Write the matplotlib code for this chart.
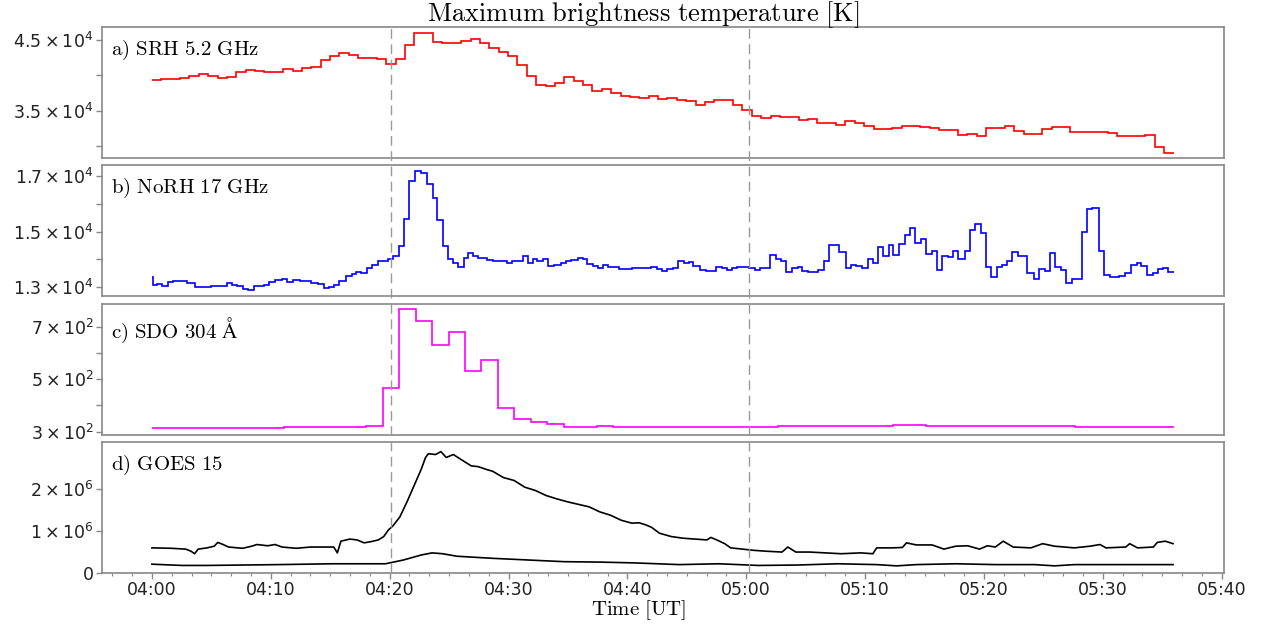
import numpy as np
import matplotlib.pyplot as plt
from matplotlib.ticker import AutoMinorLocator

# x axis runs in plotted minutes after 04:00 (tick labels as printed on the chart)
tick_pos = [0, 10, 20, 30, 40, 50, 60, 70, 80, 90]
tick_labels = ['04:00', '04:10', '04:20', '04:30', '04:40',
               '05:00', '05:10', '05:20', '05:30', '05:40']
event_x = [20.1, 50.2]
t_end = 85.95

# a) SRH 5.2 GHz, x 1e4 K, equal time bins
srh = [3.933, 3.948, 3.948, 3.967, 3.996, 4.016, 3.986, 3.957, 3.972, 4.054,
       4.079, 4.069, 4.054, 4.054, 4.093, 4.059, 4.103, 4.118, 4.22, 4.278,
       4.322, 4.288, 4.249, 4.244, 4.23, 4.157, 4.239, 4.424, 4.598, 4.594,
       4.472, 4.458, 4.458, 4.492, 4.516, 4.458, 4.385, 4.336, 4.273, 4.142,
       3.996, 3.86, 3.85, 3.899, 3.972, 3.923, 3.865, 3.782, 3.811, 3.753,
       3.714, 3.695, 3.685, 3.705, 3.666,
       3.683, 3.654, 3.639, 3.586, 3.630, 3.649, 3.649, 3.581, 3.513, 3.426,
       3.397, 3.421, 3.416, 3.416, 3.363, 3.387, 3.329, 3.329, 3.300, 3.353,
       3.319, 3.285, 3.242, 3.242, 3.261, 3.276, 3.290, 3.271, 3.256, 3.232,
       3.232, 3.160, 3.169, 3.140, 3.256, 3.256, 3.281, 3.213, 3.174, 3.174,
       3.247, 3.271, 3.271, 3.203, 3.203, 3.198, 3.198, 3.179, 3.135, 3.145,
       3.145, 3.155, 2.990, 2.903]

# b) NoRH 17 GHz, x 1e4 K, step start times and levels
norh_t = [0.00, 0.05, 0.43, 0.88, 1.33, 1.78, 2.54, 2.99, 3.59, 4.64,
          5.00, 6.29, 6.74, 7.19, 7.64, 8.09, 8.60, 9.44, 9.89, 10.35,
          10.95, 11.40, 11.85, 12.45, 13.35, 13.95, 14.49, 14.91, 15.30, 15.75,
          16.35, 16.80, 17.19, 17.61, 18.09, 18.51, 18.99, 19.36, 19.90, 20.32,
          20.80, 21.22, 21.61, 22.12, 22.66, 23.11, 23.62, 24.01, 24.46, 24.91,
          25.36, 25.75, 26.26, 26.62, 27.01, 27.40, 28.21, 28.66, 29.03, 29.87,
          30.32, 31.22, 31.61, 32.03, 32.42, 32.93, 33.32, 33.84, 34.38, 34.83,
          35.28, 35.82, 36.24, 36.63, 37.08, 37.53, 37.98, 38.34, 39.33, 40.38,
          42.01, 42.49, 42.91, 43.36, 43.88, 44.26, 44.75, 45.16, 45.55, 46.13,
          46.58, 47.48, 47.97, 48.39, 48.84, 49.26, 50.22, 50.71, 51.19, 51.96,
          52.48, 52.96, 53.35, 53.87, 54.32, 54.73, 55.22, 56.02, 56.51, 56.99,
          57.80, 58.38, 58.83, 59.25, 59.73, 60.21, 60.63, 61.08, 61.53, 61.99,
          62.37, 62.89, 63.34, 63.79, 64.24, 64.72, 65.14, 65.60, 66.01, 66.50,
          66.98, 67.40, 67.85, 68.37, 68.82, 69.24, 69.72, 70.20, 70.62, 71.07,
          71.49, 71.91, 72.36, 72.88, 73.65, 74.17, 74.62, 75.10, 75.58, 76.00,
          76.49, 76.87, 77.39, 77.84, 78.26, 78.68, 79.13, 79.64, 80.10, 80.61,
          81.32, 81.90, 82.35, 82.87, 83.25, 83.74, 84.22, 84.61, 85.03, 85.51]
norh = [1.336, 1.308, 1.310, 1.305, 1.318, 1.323, 1.320, 1.315, 1.300, 1.298,
        1.302, 1.315, 1.308, 1.303, 1.292, 1.287, 1.304, 1.308, 1.318, 1.325,
        1.330, 1.318, 1.324, 1.321, 1.315, 1.310, 1.296, 1.299, 1.308, 1.320,
        1.339, 1.346, 1.355, 1.351, 1.367, 1.379, 1.392, 1.395, 1.402, 1.410,
        1.447, 1.546, 1.681, 1.718, 1.712, 1.672, 1.620, 1.543, 1.447, 1.402,
        1.385, 1.373, 1.406, 1.422, 1.410, 1.406, 1.398, 1.395, 1.392, 1.385,
        1.392, 1.413, 1.385, 1.400, 1.392, 1.400, 1.376, 1.379, 1.385, 1.394,
        1.398, 1.404, 1.402, 1.382, 1.377, 1.369, 1.379, 1.372, 1.365, 1.367,
        1.372, 1.363, 1.357, 1.365, 1.369, 1.394, 1.388, 1.389, 1.376, 1.361,
        1.358, 1.373, 1.367, 1.361, 1.369, 1.373, 1.367, 1.361, 1.367, 1.416,
        1.400, 1.395, 1.355, 1.367, 1.371, 1.358, 1.355, 1.361, 1.394, 1.450,
        1.426, 1.367, 1.378, 1.377, 1.369, 1.400, 1.385, 1.443, 1.413, 1.453,
        1.414, 1.456, 1.488, 1.514, 1.459, 1.472, 1.420, 1.431, 1.361, 1.413,
        1.408, 1.431, 1.402, 1.429, 1.505, 1.527, 1.493, 1.372, 1.334, 1.373,
        1.379, 1.392, 1.426, 1.413, 1.349, 1.330, 1.363, 1.357, 1.421, 1.373,
        1.361, 1.313, 1.328, 1.330, 1.499, 1.581, 1.586, 1.431, 1.342, 1.334,
        1.339, 1.349, 1.379, 1.388, 1.377, 1.342, 1.349, 1.365, 1.369, 1.352]

# c) SDO 304 A, x 1e2, equal time bins
sdo = [3.15, 3.15, 3.15, 3.14, 3.14, 3.14, 3.15, 3.15, 3.16, 3.16,
       3.17, 3.18, 3.19, 3.23, 4.67, 7.68, 7.23, 6.31, 6.81, 5.33,
       5.72, 3.92, 3.49, 3.36, 3.29, 3.19, 3.19, 3.20, 3.19, 3.18,
       3.18, 3.17, 3.17, 3.18, 3.18, 3.19, 3.19, 3.19, 3.20, 3.20,
       3.21, 3.22, 3.22, 3.23, 3.23, 3.24, 3.24, 3.23, 3.23, 3.22,
       3.22, 3.21, 3.21, 3.20, 3.20, 3.20, 3.19, 3.19, 3.19, 3.18,
       3.18, 3.18]

# d) GOES 15, x 1e6
goes_hi_t = [0, 1.63, 2.84, 3.29, 3.59, 3.89, 4.64, 5.24, 5.54, 5.99,
             6.44, 7.64, 8.39, 8.84, 9.74, 10.35, 10.95, 12.14, 13.35, 14.55,
             15.30, 15.60, 15.90, 16.65, 17.25, 17.85, 18.45, 19.05, 19.50, 19.90,
             20.26, 20.86, 21.46, 22.06, 22.66, 23.02, 23.26, 23.86, 24.31, 24.76,
             25.36, 25.96, 26.86, 27.46, 28.07, 28.67, 29.57, 30.47, 31.37, 32.27,
             33.17, 34.07, 34.97, 35.87, 36.78, 37.68, 38.58, 39.48, 40.38, 40.98,
             41.54, 42.04, 42.70, 43.70, 44.70, 45.69, 46.69, 47.02, 47.52, 48.19,
             48.69, 49.68, 50.68, 51.68, 53.01, 53.50, 54.17, 55.33, 56.66, 57.99,
             59.65, 60.65, 60.98, 62.31, 63.14, 63.48, 64.31, 65.64, 66.63, 67.63,
             68.63, 69.63, 70.29, 70.96, 71.62, 72.45, 73.95, 74.94, 75.94, 77.60,
             78.93, 79.76, 80.26, 81.93, 82.26, 82.92, 84.25, 84.58, 85.25, 85.91]
goes_hi = [0.59, 0.58, 0.56, 0.51, 0.45, 0.56, 0.59, 0.63, 0.72, 0.67,
           0.61, 0.58, 0.63, 0.67, 0.64, 0.67, 0.61, 0.58, 0.61, 0.61,
           0.61, 0.47, 0.75, 0.80, 0.78, 0.71, 0.74, 0.78, 0.86, 1.02,
           1.11, 1.33, 1.69, 2.08, 2.47, 2.75, 2.84, 2.82, 2.89, 2.75,
           2.82, 2.71, 2.55, 2.53, 2.47, 2.42, 2.27, 2.20, 2.04, 1.96,
           1.84, 1.76, 1.69, 1.63, 1.57, 1.45, 1.37, 1.25, 1.18, 1.19,
           1.14, 1.08, 0.94, 0.86, 0.82, 0.80, 0.78, 0.84, 0.78, 0.69,
           0.59, 0.56, 0.53, 0.51, 0.49, 0.61, 0.49, 0.49, 0.47, 0.45,
           0.47, 0.45, 0.59, 0.59, 0.60, 0.71, 0.66, 0.66, 0.56, 0.63,
           0.64, 0.56, 0.64, 0.61, 0.75, 0.61, 0.59, 0.69, 0.63, 0.59,
           0.63, 0.67, 0.59, 0.61, 0.69, 0.59, 0.61, 0.72, 0.75, 0.69]
goes_lo_t = [0, 2.54, 4.64, 7.64, 10.65, 15.15, 19.65, 21.16, 22.66, 23.56,
             24.46, 25.66, 28.67, 31.67, 34.67, 37.68, 40.68, 44.36, 47.69, 51.01,
             54.34, 57.66, 60.98, 62.65, 64.31, 67.63, 70.96, 74.28, 75.94, 77.60,
             80.93, 85.91]
goes_lo = [0.20, 0.17, 0.17, 0.18, 0.19, 0.21, 0.21, 0.30, 0.42, 0.47,
           0.45, 0.39, 0.34, 0.30, 0.26, 0.25, 0.23, 0.19, 0.21, 0.17,
           0.18, 0.21, 0.19, 0.16, 0.19, 0.21, 0.19, 0.19, 0.16, 0.19,
           0.19, 0.19]

panel_names = [r'$\mathrm{a)\ SRH\ 5.2\ GHz}$', r'$\mathrm{b)\ NoRH\ 17\ GHz}$',
               r'$\mathrm{c)\ SDO\ 304\ \AA}$', r'$\mathrm{d)\ GOES\ 15}$']
yticks = [[3.0, 3.5, 4.0, 4.5], [1.3, 1.4, 1.5, 1.6, 1.7],
          [3, 4, 5, 6, 7], [0, 1, 2]]
ytick_labels = [['', r'$3.5\times10^{4}$', '', r'$4.5\times10^{4}$'],
                [r'$1.3\times10^{4}$', '', r'$1.5\times10^{4}$', '', r'$1.7\times10^{4}$'],
                [r'$3\times10^{2}$', '', r'$5\times10^{2}$', '', r'$7\times10^{2}$'],
                ['0', r'$1\times10^{6}$', r'$2\times10^{6}$']]
ylims = [(2.83, 4.686), (1.266, 1.739), (2.885, 7.885), (-0.01, 3.12)]

fig = plt.figure(figsize=(12.64, 6.26), dpi=100)
L, R, T, B = 0.0807, 0.9684, 0.9569, 0.0847
gs = fig.add_gridspec(4, 1, left=L, right=R, top=T, bottom=B, hspace=0.056)
axes = [fig.add_subplot(gs[i]) for i in range(4)]
xlim = (-4.2, 90.2)

axes[0].stairs(srh, np.linspace(0, t_end, len(srh) + 1), baseline=None,
               color='red', lw=1.2)
axes[1].stairs(norh, norh_t + [t_end], baseline=None, color='blue', lw=1.2)
axes[2].stairs(sdo, np.linspace(0, t_end, len(sdo) + 1), baseline=None,
               color='magenta', lw=1.2)
axes[3].plot(goes_hi_t, goes_hi, color='black', lw=1.2)
axes[3].plot(goes_lo_t, goes_lo, color='black', lw=1.2)

for i, ax in enumerate(axes):
    ax.set_xlim(*xlim)
    ax.set_ylim(*ylims[i])
    ax.set_yticks(yticks[i], ytick_labels[i])
    for sp in ax.spines.values():
        sp.set_color('#888888')
        sp.set_linewidth(1.2)
    ax.tick_params(direction='out', length=4, width=1, color='#888888',
                   labelsize=12.5, labelcolor='#222222', pad=2)
    ax.text(0.008, 0.91, panel_names[i], transform=ax.transAxes,
            ha='left', va='top', fontsize=15, math_fontfamily='cm')
    if i < 3:
        ax.set_xticks([])

axes[3].set_xticks(tick_pos, tick_labels)
axes[3].xaxis.set_minor_locator(AutoMinorLocator(6))
axes[3].tick_params(which='minor', direction='out', length=2.5, width=0.8,
                    color='#888888')

fig.text(0.505, 0.026, r'$\mathrm{Time\ [UT]}$', ha='center', va='center',
         fontsize=15, math_fontfamily='cm')
fig.text(0.509, 0.976, r'$\mathrm{Maximum\ brightness\ temperature\ [K]}$',
         ha='center', va='center', fontsize=19, math_fontfamily='cm')

over = fig.add_axes([L, B, R - L, T - B])
over.set_xlim(*xlim)
over.axis('off')
for xv in event_x:
    over.axvline(xv, color='#999999', ls=(0, (7, 4)), lw=1)

fig.savefig('out.png', dpi=100)
